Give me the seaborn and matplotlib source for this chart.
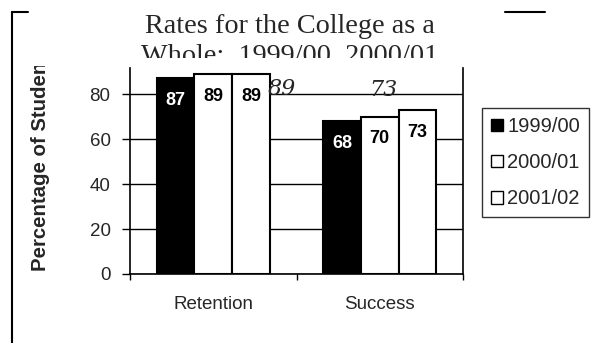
import matplotlib
matplotlib.use("Agg")
import matplotlib.pyplot as plt
from matplotlib.patches import Patch
from matplotlib.lines import Line2D
from matplotlib.transforms import Bbox
import seaborn as sns
import pandas as pd

measures = ["Retention", "Success"]
years = ["1999/00", "2000/01", "2001/02"]
retention = [87, 89, 89]
success = [68, 70, 73]
handwritten = ["89", "73"]
y_ticks = [0, 20, 40, 60, 80]

df = pd.DataFrame({
    "measure": [m for m in measures for _ in years],
    "year": years * len(measures),
    "value": retention + success,
})

sns.set_theme(style="white")
plt.rcParams["font.family"] = ["Liberation Sans", "DejaVu Sans"]

W, H = 600, 343
fig = plt.figure(figsize=(W / 100, H / 100), dpi=100)
ax = fig.add_axes([130 / W, 1 - 274 / H, (463 - 130) / W, (274 - 68) / H])

palette = {"1999/00": "black", "2000/01": "white", "2001/02": "white"}
sns.barplot(data=df, x="measure", y="value", hue="year", order=measures,
            hue_order=years, palette=palette, width=0.68, edgecolor="black",
            linewidth=1.5, saturation=1, ax=ax, legend=False, zorder=3)

ax.set_xlim(-0.5, 1.5)
ax.set_ylim(0, 91.6)
ax.set_yticks(y_ticks)
ax.set_yticklabels([str(t) for t in y_ticks], fontsize=13.5)
ax.yaxis.grid(True, color="black", linewidth=1)
ax.set_axisbelow(True)
ax.tick_params(axis="y", which="major", direction="out", length=6, width=1,
               color="black", left=True, pad=8)

# category boundaries as ticks, category names centred between them
ax.set_xticks([-0.5, 0.5, 1.5])
ax.set_xticklabels(["", "", ""])
ax.set_xticks([0, 1], minor=True)
ax.set_xticklabels(measures, minor=True, fontsize=13.5)
ax.tick_params(axis="x", which="major", direction="out", length=4, width=1,
               color="black", bottom=True)
ax.tick_params(axis="x", which="minor", length=0, pad=16)
ax.set_xlabel("")
ax.set_ylabel("")

for side in ["left", "right", "bottom"]:
    ax.spines[side].set_visible(True)
    ax.spines[side].set_color("black")
    ax.spines[side].set_linewidth(1.2)
ax.spines["top"].set_visible(False)

# value labels inside the top of each bar
for cont, yr in zip(ax.containers, years):
    for bar in cont:
        v = bar.get_height()
        ax.annotate(f"{v:.0f}", (bar.get_x() + bar.get_width() / 2, v),
                    xytext=(0, -10), textcoords="offset points",
                    ha="center", va="top", fontsize=13, fontweight="bold",
                    color="white" if yr == "1999/00" else "black", zorder=5)

# handwritten notes
fig.text(282 / W, 1 - 89 / H, handwritten[0], fontsize=16, style="italic",
         family="DejaVu Serif", ha="center", va="center")
fig.text(383 / W, 1 - 90 / H, handwritten[1], fontsize=16, style="italic",
         family="DejaVu Serif", ha="center", va="center")

# y-axis title, clipped at the top of the plot frame
yl = fig.text(41 / W, 1 - 271 / H, "Percentage of Students", rotation=90,
              fontsize=14.7, fontweight="bold", ha="center", va="bottom")
yl.set_clip_on(True)
yl.set_clip_box(Bbox([[0, 0], [W, H - 66]]))

# title, second line cut off by the plot frame
t = fig.text(290 / W, 1 - 14 / H, "Rates for the College as a\nWhole:  1999/00, 2000/01",
             fontsize=20.3, family="Liberation Serif", ha="center", va="top",
             linespacing=1.28)
t.set_clip_on(True)
t.set_clip_box(Bbox([[0, H - 58], [W, H]]))

# legend
handles = [Patch(facecolor=palette[y], edgecolor="black", linewidth=1) for y in years]
leg = fig.legend(handles, years, loc="upper left",
                 bbox_to_anchor=(482 / W, 1 - 108 / H), borderaxespad=0,
                 fontsize=14.5, frameon=True, fancybox=False, edgecolor="black",
                 handlelength=0.6, handleheight=0.6, handletextpad=0.2,
                 labelspacing=0.85, borderpad=0.45)
leg.get_frame().set_linewidth(1)

# outer frame fragments
for xs, ys in [([12, 12], [12, H]), ([12, 28], [12, 12]), ([505, 545], [12, 12])]:
    fig.add_artist(Line2D([x / W for x in xs], [1 - y / H for y in ys],
                          color="black", linewidth=1.5))

fig.savefig("out.png", dpi=100, facecolor="white")
